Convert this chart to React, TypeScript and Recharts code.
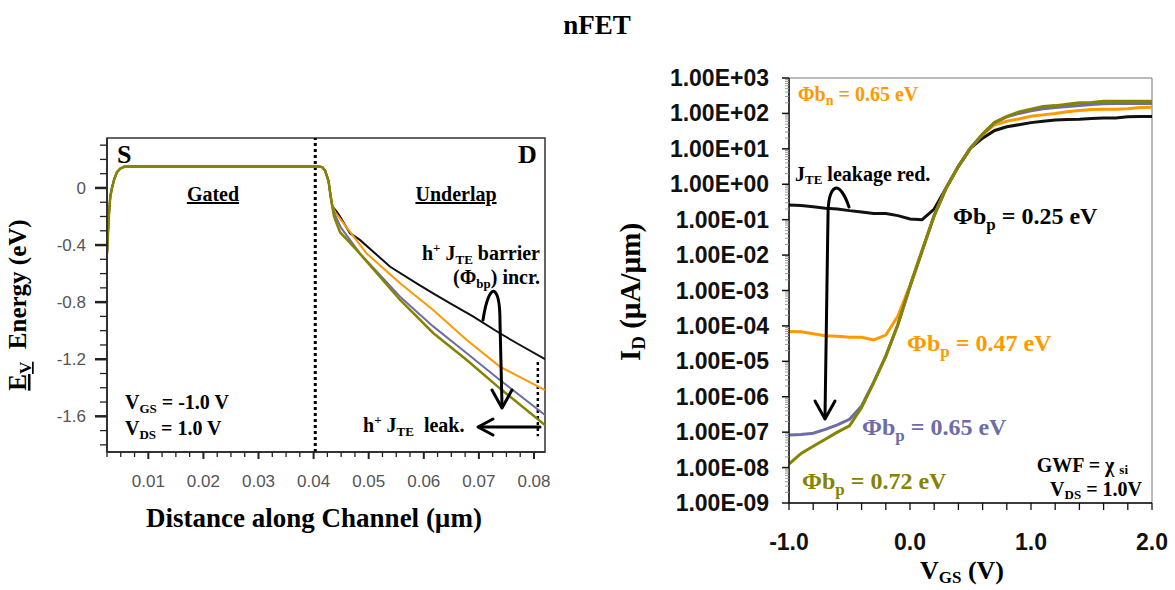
import { LineChart, Line, XAxis, YAxis, ReferenceLine, ReferenceArea } from 'recharts'

const SERIF = "'Liberation Serif', 'Times New Roman', serif"
const SANS = "'Liberation Sans', Arial, Helvetica, sans-serif"

const BLACK = '#111111'
const ORANGE = '#FF9900'
const BLUE = '#6C6CAA'
const OLIVE = '#848400'

// ---- left panel: valence band edge Ev (eV) vs distance (um) ----
// part shared by all four curves (source + gated region + start of the drop)
const gatedX = [0.0025, 0.0027, 0.0029, 0.0031, 0.0034, 0.0038, 0.0043, 0.0049, 0.0057, 0.041, 0.0416, 0.0421, 0.0427, 0.0431, 0.0434]
const gatedE = [-0.46, -0.3, -0.16, -0.06, 0.0, 0.06, 0.11, 0.135, 0.15, 0.15, 0.145, 0.12, 0.05, -0.06, -0.13]

// underlap region, one tail per drain barrier
const tail025X = [0.0442, 0.0448, 0.0466, 0.0484, 0.0515, 0.0539, 0.0587, 0.0617, 0.0648, 0.069, 0.0738, 0.0769, 0.082]
const tail025E = [-0.166, -0.2, -0.317, -0.364, -0.47, -0.552, -0.668, -0.738, -0.808, -0.902, -1.018, -1.088, -1.2]
const tail047X = [0.0441, 0.0454, 0.0496, 0.0557, 0.0617, 0.0678, 0.0738, 0.082]
const tail047E = [-0.18, -0.247, -0.458, -0.668, -0.855, -1.065, -1.252, -1.416]
const tail065X = [0.0439, 0.045, 0.0484, 0.0557, 0.0617, 0.0678, 0.0738, 0.082]
const tail065E = [-0.19, -0.28, -0.458, -0.762, -0.97, -1.158, -1.345, -1.591]
const tail072X = [0.0437, 0.0448, 0.0478, 0.0557, 0.0617, 0.0678, 0.0738, 0.082]
const tail072E = [-0.2, -0.31, -0.434, -0.785, -1.016, -1.205, -1.404, -1.661]

const bandXTicks = [0.0025, 0.005, 0.0075, 0.01, 0.0125, 0.015, 0.0175, 0.02, 0.0225, 0.025, 0.0275, 0.03, 0.0325, 0.035, 0.0375, 0.04, 0.0425, 0.045, 0.0475, 0.05, 0.0525, 0.055, 0.0575, 0.06, 0.0625, 0.065, 0.0675, 0.07, 0.0725, 0.075, 0.0775, 0.08]
const bandXLabels = [0.01, 0.02, 0.03, 0.04, 0.05, 0.06, 0.07, 0.08]
const bandYTicks = [-1.8, -1.7, -1.6, -1.5, -1.4, -1.3, -1.2, -1.1, -1.0, -0.9, -0.8, -0.7, -0.6, -0.5, -0.4, -0.3, -0.2, -0.1, 0, 0.1, 0.2, 0.3]
const bandYLabels = [-1.6, -1.2, -0.8, -0.4, 0]

// ---- right panel: Id (uA/um) vs Vgs (V), log scale ----
const vgs = [-1.0, -0.9, -0.8, -0.7, -0.6, -0.5, -0.4, -0.3, -0.2, -0.1, 0.0, 0.1, 0.2, 0.3, 0.4, 0.5, 0.6, 0.7, 0.8, 0.9, 1.0, 1.1, 1.2, 1.3, 1.4, 1.5, 1.6, 1.7, 1.8, 1.9, 2.0]
const id025 = [0.26, 0.25, 0.23, 0.21, 0.2, 0.18, 0.165, 0.15, 0.15, 0.13, 0.105, 0.1, 0.2, 0.8, 3.2, 10.5, 20, 33, 42, 48, 55, 60, 65, 67, 68, 72, 74, 74, 80, 82, 82]
const id047 = [7e-5, 6.8e-5, 6e-5, 5.3e-5, 5.1e-5, 4.8e-5, 4.8e-5, 4.0e-5, 5.5e-5, 1.9e-4, 1.4e-3, 1.4e-2, 0.13, 0.8, 3.2, 10.5, 25, 48, 60, 70, 83, 91, 100, 112, 120, 129, 132, 132, 135, 148, 150]
const id065 = [8.3e-8, 8.6e-8, 9.3e-8, 1.2e-7, 1.6e-7, 2.3e-7, 5.5e-7, 2.6e-6, 1.4e-5, 1.1e-4, 1.3e-3, 1.3e-2, 0.13, 0.8, 3.2, 10.5, 26, 55, 80, 100, 118, 135, 148, 158, 166, 178, 186, 190, 190, 190, 190]
const id072 = [1.26e-8, 2.5e-8, 4e-8, 6.3e-8, 1e-7, 1.5e-7, 5e-7, 2.5e-6, 1.4e-5, 1.1e-4, 1.3e-3, 1.3e-2, 0.13, 0.8, 3.2, 10.5, 26, 56, 83, 110, 132, 158, 166, 182, 200, 204, 219, 219, 219, 219, 219]

const vgsTicks = [-1.0, -0.8, -0.6, -0.4, -0.2, 0.0, 0.2, 0.4, 0.6, 0.8, 1.0, 1.2, 1.4, 1.6, 1.8, 2.0]
const vgsLabels = [-1.0, 0.0, 1.0, 2.0]
const idDecades = [1e-9, 1e-8, 1e-7, 1e-6, 1e-5, 1e-4, 1e-3, 1e-2, 1e-1, 1, 10, 100, 1000]
const idTicks = [
  ...idDecades,
  ...idDecades.slice(0, -1).flatMap((d) => [2, 3, 4, 5, 6, 7, 8, 9].map((m) => d * m)),
].sort((a, b) => a - b)

const toPoints = (xs: number[], es: number[]) => xs.map((x, i) => ({ x, e: es[i] }))
const band025 = toPoints([...gatedX, ...tail025X], [...gatedE, ...tail025E])
const band047 = toPoints([...gatedX, ...tail047X], [...gatedE, ...tail047E])
const band065 = toPoints([...gatedX, ...tail065X], [...gatedE, ...tail065E])
const band072 = toPoints([...gatedX, ...tail072X], [...gatedE, ...tail072E])

const idvg = vgs.map((v, i) => ({ v, b025: id025[i], b047: id047[i], b065: id065[i], b072: id072[i] }))

function fmtE(v: number) {
  const e = Math.round(Math.log10(v))
  return `1.00E${e < 0 ? '-' : '+'}${String(Math.abs(e)).padStart(2, '0')}`
}

function BandXTick({ x, y, payload }: any) {
  const major = bandXLabels.includes(payload.value)
  return (
    <g>
      <line x1={x} x2={x} y1={y} y2={y + (major ? 7 : 5)} stroke="#222" strokeWidth={major ? 2 : 1.3} />
      {major && (
        <text x={x} y={y + 35} textAnchor="middle" fontFamily={SANS} fontSize={17} fill="#555">
          {payload.value.toFixed(2)}
        </text>
      )}
    </g>
  )
}

function BandYTick({ x, y, payload }: any) {
  const major = bandYLabels.includes(payload.value)
  return (
    <g>
      <line x1={x} x2={x - (major ? 12 : 7)} y1={y} y2={y} stroke="#222" strokeWidth={major ? 2.5 : 1.3} />
      {major && (
        <text x={x - 21} y={y + 6} textAnchor="end" fontFamily={SANS} fontSize={17} fill="#555">
          {payload.value === 0 ? '0' : payload.value.toFixed(1)}
        </text>
      )}
    </g>
  )
}

function VgsTick({ x, y, payload }: any) {
  const major = vgsLabels.includes(payload.value)
  return (
    <g>
      <line x1={x} x2={x} y1={y} y2={y + 7} stroke="#111" strokeWidth={1.3} />
      {major && (
        <text x={x} y={y + 47} textAnchor="middle" fontFamily={SANS} fontWeight="bold" fontSize={23} fill="#111">
          {payload.value.toFixed(1)}
        </text>
      )}
    </g>
  )
}

function IdTick({ x, y, payload }: any) {
  const major = idDecades.includes(payload.value)
  return (
    <g>
      <line x1={x} x2={x - (major ? 7 : 4)} y1={y} y2={y} stroke={major ? '#111' : '#999'} strokeWidth={major ? 1.5 : 1} />
      {major && (
        <text x={x - 20} y={y + 8} textAnchor="end" fontFamily={SANS} fontWeight="bold" fontSize={23} fill="#111">
          {fmtE(payload.value)}
        </text>
      )}
    </g>
  )
}

const sub = (t: string, size: number, d: number) => [
  <tspan key="s" dy={d} fontSize={size}>{t}</tspan>,
]

export default function App() {
  return (
    <div style={{ position: 'absolute', left: 0, top: 0, width: 1175, height: 590, background: '#fff', overflow: 'hidden' }}>
      <div style={{ position: 'absolute', left: 0, top: 0 }}>
        <LineChart width={580} height={540} margin={{ top: 138, right: 35, bottom: 28, left: 47 }}>
          <XAxis
            dataKey="x"
            type="number"
            domain={[0.0025, 0.082]}
            allowDataOverflow
            ticks={bandXTicks}
            interval={0}
            height={60}
            tickSize={0}
            tickMargin={0}
            tickLine={false}
            tick={<BandXTick />}
            stroke="#222"
            strokeWidth={1.5}
          />
          <YAxis
            type="number"
            domain={[-1.85, 0.35]}
            allowDataOverflow
            ticks={bandYTicks}
            interval={0}
            width={60}
            tickSize={0}
            tickMargin={0}
            tickLine={false}
            tick={<BandYTick />}
            stroke="#222"
            strokeWidth={1.5}
          />
          <ReferenceArea x1={0.0025} x2={0.082} y1={-1.85} y2={0.35} fill="none" stroke="#333" strokeWidth={1.5} ifOverflow="visible" />
          <ReferenceLine x={0.0403} stroke="#000" strokeWidth={3} strokeDasharray="3 3" />
          <ReferenceLine
            segment={[{ x: 0.0807, y: -1.22 }, { x: 0.0807, y: -1.74 }]}
            stroke="#000"
            strokeWidth={2.5}
            strokeDasharray="3 3"
          />
          <Line data={band025} dataKey="e" stroke={BLACK} strokeWidth={2} dot={false} isAnimationActive={false} />
          <Line data={band047} dataKey="e" stroke={ORANGE} strokeWidth={2} dot={false} isAnimationActive={false} />
          <Line data={band065} dataKey="e" stroke={BLUE} strokeWidth={2} dot={false} isAnimationActive={false} />
          <Line data={band072} dataKey="e" stroke={OLIVE} strokeWidth={2.5} dot={false} isAnimationActive={false} />
        </LineChart>
      </div>

      <div style={{ position: 'absolute', left: 600, top: 0 }}>
        <LineChart width={575} height={590} data={idvg} margin={{ top: 78, right: 23, bottom: 37, left: 89 }}>
          <XAxis
            dataKey="v"
            type="number"
            domain={[-1, 2]}
            allowDataOverflow
            ticks={vgsTicks}
            interval={0}
            height={50}
            tickSize={0}
            tickMargin={0}
            tickLine={false}
            tick={<VgsTick />}
            stroke="#111"
            strokeWidth={1.5}
          />
          <YAxis
            type="number"
            scale="log"
            domain={[1e-9, 1e3]}
            allowDataOverflow
            ticks={idTicks}
            interval={0}
            width={100}
            tickSize={0}
            tickMargin={0}
            tickLine={false}
            tick={<IdTick />}
            stroke="#111"
            strokeWidth={1.5}
          />
          <ReferenceArea x1={-1} x2={2} y1={1e-9} y2={1e3} fill="none" stroke="#777" strokeWidth={1} ifOverflow="visible" />
          <Line dataKey="b025" stroke={BLACK} strokeWidth={3} dot={false} isAnimationActive={false} />
          <Line dataKey="b047" stroke={ORANGE} strokeWidth={3} dot={false} isAnimationActive={false} />
          <Line dataKey="b065" stroke={BLUE} strokeWidth={3} dot={false} isAnimationActive={false} />
          <Line dataKey="b072" stroke={OLIVE} strokeWidth={3} dot={false} isAnimationActive={false} />
        </LineChart>
      </div>

      <svg width={1175} height={590} style={{ position: 'absolute', left: 0, top: 0, pointerEvents: 'none' }}>
        <g fontFamily={SERIF} fontWeight="bold" fill="#000">
          <text x={597} y={34} textAnchor="middle" fontSize={27}>nFET</text>

          {/* left panel */}
          <text x={117} y={163} fontSize={26}>S</text>
          <text x={518} y={163} fontSize={26}>D</text>
          <text x={213} y={201} fontSize={20} textAnchor="middle" style={{ textDecoration: 'underline' }}>Gated</text>
          <text x={456} y={201} fontSize={20} textAnchor="middle" style={{ textDecoration: 'underline' }}>Underlap</text>
          <text x={540} y={260} fontSize={20} textAnchor="end">
            h<tspan dy={-8} fontSize={13}>+</tspan>
            <tspan dy={8}>{'\u00A0J'}</tspan>
            {sub('TE', 13, 4)}
            <tspan dy={-4}>{'\u00A0barrier'}</tspan>
          </text>
          <text x={540} y={284} fontSize={20} textAnchor="end">
            (Φ{sub('bp', 13, 4)}
            <tspan dy={-4}>) incr.</tspan>
          </text>
          <text x={363} y={432} fontSize={20}>
            h<tspan dy={-8} fontSize={13}>+</tspan>
            <tspan dy={8}>{'\u00A0J'}</tspan>
            {sub('TE', 13, 4)}
            <tspan dy={-4}>{'\u00A0\u00A0leak.'}</tspan>
          </text>
          <text x={125} y={409} fontSize={20}>
            V{sub('GS', 13, 4)}
            <tspan dy={-4}>{' = -1.0 V'}</tspan>
          </text>
          <text x={125} y={435} fontSize={20}>
            V{sub('DS', 13, 4)}
            <tspan dy={-4}>{' = 1.0 V'}</tspan>
          </text>
          <text x={26} y={305} fontSize={25} textAnchor="middle" transform="rotate(-90 26 305)">
            <tspan style={{ textDecoration: 'underline' }}>E</tspan>
            <tspan dy={5} fontSize={17} style={{ textDecoration: 'underline' }}>V</tspan>
            <tspan dy={-5}>{'\u00A0\u00A0Energy (eV)'}</tspan>
          </text>
          <text x={314} y={527} fontSize={27} textAnchor="middle">Distance along Channel (µm)</text>

          {/* right panel */}
          <text x={640} y={292} fontSize={29} textAnchor="middle" transform="rotate(-90 640 292)">
            I{sub('D', 19, 5)}
            <tspan dy={-5}>{' (µA/µm)'}</tspan>
          </text>
          <text x={962} y={579} fontSize={26} textAnchor="middle">
            V{sub('GS', 17, 4)}
            <tspan dy={-4}>{' (V)'}</tspan>
          </text>
          <text x={798} y={101} fontSize={20} fill={ORANGE}>
            Φb{sub('n', 14, 4)}
            <tspan dy={-4}>{' = 0.65 eV'}</tspan>
          </text>
          <text x={795} y={181} fontSize={20}>
            J{sub('TE', 13, 3)}
            <tspan dy={-3}>{' leakage red.'}</tspan>
          </text>
          <text x={953} y={224} fontSize={24}>
            Φb{sub('p', 17, 6)}
            <tspan dy={-6}>{' = 0.25 eV'}</tspan>
          </text>
          <text x={907} y={351} fontSize={24} fill={ORANGE}>
            Φb{sub('p', 17, 6)}
            <tspan dy={-6}>{' = 0.47 eV'}</tspan>
          </text>
          <text x={862} y={435} fontSize={24} fill={BLUE}>
            Φb{sub('p', 17, 6)}
            <tspan dy={-6}>{' = 0.65 eV'}</tspan>
          </text>
          <text x={802} y={489} fontSize={24} fill={OLIVE}>
            Φb{sub('p', 17, 6)}
            <tspan dy={-6}>{' = 0.72 eV'}</tspan>
          </text>
          <text x={1128} y={472} fontSize={20} textAnchor="end">
            {'GWF = χ '}
            {sub('si', 13, 2)}
          </text>
          <text x={1142} y={496} fontSize={20} textAnchor="end">
            V{sub('DS', 13, 3)}
            <tspan dy={-3}>{' =  1.0V'}</tspan>
          </text>
        </g>

        <g fill="none" stroke="#000" strokeWidth={3} strokeLinecap="round" strokeLinejoin="round">
          {/* left: barrier increase arrow */}
          <path d="M 483 320 C 486 300 491 288 495 292 C 499 296 500 308 500 322 L 502 406" />
          <path d="M 492 390 L 502 408 L 512 390" />
          {/* left: leakage arrow */}
          <path d="M 540 427 L 479 427" />
          <path d="M 493 419 L 478 427 L 493 435" />
          {/* right: leakage reduction arrow */}
          <path d="M 849 207 C 845 195 839 185 834 189 C 829 193 828 203 828 216 L 825 417" />
          <path d="M 815 401 L 825 419 L 835 401" />
        </g>
      </svg>
    </div>
  )
}
